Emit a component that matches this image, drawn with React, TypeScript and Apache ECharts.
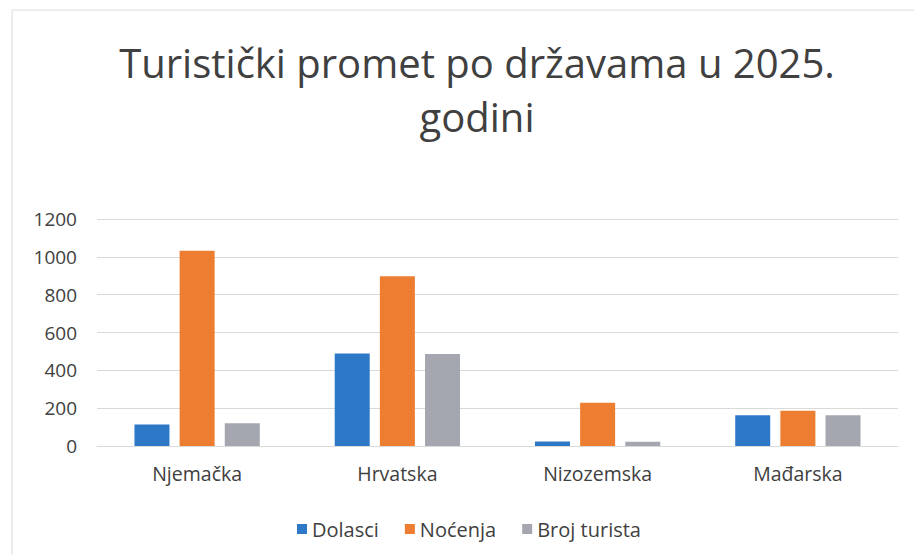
import React, { useEffect, useRef } from "react";
import * as echarts from "echarts";

const categories = ["Njemačka", "Hrvatska", "Nizozemska", "Mađarska"];
const dolasci = [113, 489, 24, 163];
const nocenja = [1032, 898, 228, 186];
const brojTurista = [120, 487, 22, 162];
const seriesNames = ["Dolasci", "Noćenja", "Broj turista"];

const FONT = "'Open Sans', sans-serif";

export default function App() {
  const ref = useRef<HTMLDivElement>(null);
  useEffect(() => {
    if (!ref.current) return;
    const chart = echarts.init(ref.current, undefined, { renderer: "svg" });
    const mk = (name: string, data: number[], color: string) => ({
      name,
      type: "bar",
      data,
      barWidth: 35,
      barGap: "29%",
      itemStyle: { color },
    });
    chart.setOption({
      animation: false,
      backgroundColor: "#ffffff",
      textStyle: { fontFamily: FONT },
      title: {
        text: "Turistički promet po državama u 2025.\ngodini",
        left: 472,
        textAlign: "center",
        top: 30,
        textStyle: {
          fontFamily: FONT,
          fontSize: 40,
          fontWeight: "normal",
          color: "#404040",
          lineHeight: 54,
        },
      },
      graphic: [
        {
          type: "rect",
          shape: { x: 12, y: 10, width: 920, height: 560 },
          style: { fill: "none", stroke: "#dcdce4", lineWidth: 1 },
          silent: true,
        },
      ],
      legend: {
        data: seriesNames,
        bottom: 16,
        left: 297,
        padding: 0,
        icon: "rect",
        itemWidth: 10,
        itemHeight: 10,
        itemGap: 26,
        textStyle: { fontFamily: FONT, fontSize: 20, color: "#404040" },
      },
      grid: { left: 97, right: 16, top: 219, bottom: 109 },
      xAxis: {
        type: "category",
        data: categories,
        axisLine: { show: true, lineStyle: { color: "#d9d9d9" } },
        axisTick: { show: false },
        axisLabel: { fontFamily: FONT, fontSize: 19.5, color: "#404040", margin: 17 },
      },
      yAxis: {
        type: "value",
        min: 0,
        max: 1200,
        interval: 200,
        axisLine: { show: false },
        axisTick: { show: false },
        axisLabel: {
          fontFamily: FONT,
          fontSize: 19,
          color: "#404040",
          margin: 20,
          formatter: (v: number) => String(v),
        },
        splitLine: { lineStyle: { color: "#d9d9d9" } },
      },
      series: [
        mk(seriesNames[0], dolasci, "#2e78c8"),
        mk(seriesNames[1], nocenja, "#ed7d31"),
        mk(seriesNames[2], brojTurista, "#a5a7b0"),
      ],
    });
    return () => chart.dispose();
  }, []);
  return (
    <div
      ref={ref}
      style={{ position: "absolute", left: 0, top: 0, width: 914, height: 555 }}
    />
  );
}
